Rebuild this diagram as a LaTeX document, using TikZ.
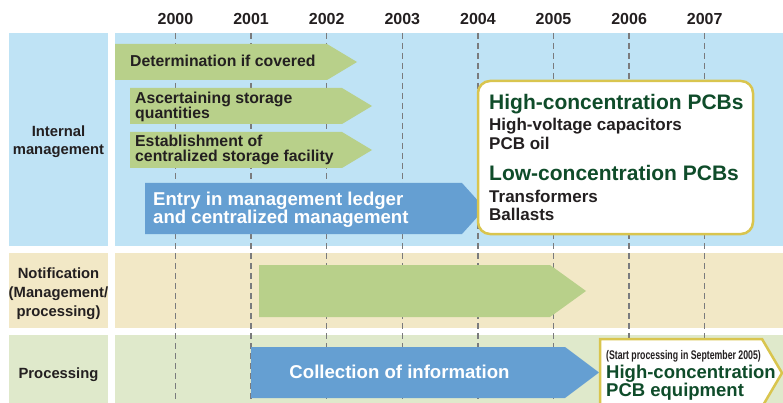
\documentclass[tikz,border=0pt]{standalone}
\usepackage{graphicx}
\usepackage{fontspec}
\setmainfont{Liberation Sans}
\usetikzlibrary{positioning}

\definecolor{bandblue}{HTML}{BFE3F5}
\definecolor{bandbeige}{HTML}{F2E8C6}
\definecolor{bandgreen}{HTML}{DFE9CB}
\definecolor{arrowgreen}{HTML}{B8D08A}
\definecolor{arrowblue}{HTML}{659FD2}
\definecolor{boxyellow}{HTML}{D9C54E}
\definecolor{pcbgreen}{HTML}{0F4C2A}
\definecolor{ink}{HTML}{231F20}
\definecolor{gridgray}{HTML}{7A7B7D}

\begin{document}
\begin{tikzpicture}[x=1pt,y=-1pt,
  every node/.style={inner sep=0pt,text=ink},
  yearlbl/.style={anchor=base,font=\bfseries\fontsize{16}{16}\selectfont},
  rowlbl/.style={anchor=base,font=\bfseries\fontsize{14.8}{17}\selectfont},
  steptext/.style={anchor=base west,font=\bfseries\fontsize{15.8}{15}\selectfont},
  bigtext/.style={font=\bfseries\fontsize{18.6}{18}\selectfont,text=white},
  pcbhead/.style={anchor=base west,font=\bfseries\fontsize{21}{21}\selectfont,text=pcbgreen},
  pcbitem/.style={anchor=base west,font=\bfseries\fontsize{17}{17}\selectfont},
  gridline/.style={gridgray,line width=1.4pt,dash pattern=on 6pt off 4pt},
  stepgreen/.style={fill=arrowgreen},
  stepblue/.style={fill=arrowblue},
]
\useasboundingbox (0,0) rectangle (783,403);
\clip (0,0) rectangle (783,403);

% row bands
\fill[bandblue] (9,33) rectangle (108,245.5);
\fill[bandblue] (115,33) rectangle (783,245.5);
\fill[bandbeige] (9,253) rectangle (108,328);
\fill[bandbeige] (115,253) rectangle (783,328);
\fill[bandgreen] (9,335) rectangle (108,403);
\fill[bandgreen] (115,335) rectangle (783,403);

% years and grid
\coordinate (gridtop) at (0,33);
\coordinate (gridbot) at (0,403);
\foreach \yr [count=\i from 0] in {2000,2001,...,2007} {
  \node[yearlbl] (y\yr) at ({175.5+75.6*\i},25) {\yr};
  \draw[gridline] (y\yr.base |- gridtop) -- (y\yr.base |- gridbot);
}

% row labels
\node[rowlbl] (internal) at (58.5,136.7) {Internal};
\node[rowlbl] (internal2) at (58.5,155) {management};
\node[rowlbl] (notif) at (58.5,278.3) {Notification};
\node[rowlbl] (notif2) at (58.5,297.5) {(Management/};
\node[rowlbl] (notif3) at (58.5,316.5) {processing)};
\node[rowlbl] (proc) at (58.5,378.3) {Processing};

% internal management steps
\path[stepgreen] (115,44) -- (327,44) -- (357,62) -- (327,80) -- (115,80) -- cycle;
\node[steptext] (determ) at (130,67) {Determination if covered};

\path[stepgreen] (130,88) -- (342,88) -- (372,106) -- (342,124) -- (130,124) -- cycle;
\node[steptext] (ascert) at (135,103.3) {Ascertaining storage};
\node[steptext] (ascert2) at (135,118.3) {quantities};

\path[stepgreen] (130,132) -- (342,132) -- (372,150) -- (342,168) -- (130,168) -- cycle;
\node[steptext] (establ) at (135,146.7) {Establishment of};
\node[steptext] (establ2) at (135,161.7) {centralized storage facility};

\path[stepblue] (145,183) -- (462,183) -- (485,208.5) -- (462,234) -- (145,234) -- cycle;
\node[bigtext,anchor=base west] (entry) at (153,205) {Entry in management ledger};
\node[bigtext,anchor=base west] (entry2) at (153,223.3) {and centralized management};

% PCB box
\draw[boxyellow,line width=2.5pt,fill=white,rounded corners=12pt] (478,81) rectangle (753,234);
\node[pcbhead] (highpcb) at (489,109.3) {High-concentration PCBs};
\node[pcbitem] (capac) at (489,130.7) {High-voltage capacitors};
\node[pcbitem] (pcboil) at (489,149.3) {PCB oil};
\node[pcbhead] (lowpcb) at (489,180.7) {Low-concentration PCBs};
\node[pcbitem] (transf) at (489,202.3) {Transformers};
\node[pcbitem] (ballast) at (489,220.7) {Ballasts};

% notification
\path[stepgreen] (259,265) -- (550,265) -- (586,291) -- (550,317) -- (259,317) -- cycle;

% processing
\path[stepblue] (251,347) -- (565,347) -- (599,372.5) -- (565,398) -- (251,398) -- cycle;
\node[bigtext,anchor=base] (collect) at (399.5,378.5) {Collection of information};

\draw[boxyellow,line width=2.5pt,fill=white] (600,339) -- (762,339) -- (782,373) -- (762,407) -- (600,407) -- cycle;
\node[anchor=base west,font=\bfseries\fontsize{12.5}{12.5}\selectfont] (start) at (606,359.3) {\scalebox{0.7}[1]{(Start processing in September 2005)}};
\node[anchor=base west,font=\bfseries\fontsize{18.5}{18.5}\selectfont,text=pcbgreen] (highequip) at (606,378.3) {High-concentration};
\node[anchor=base west,font=\bfseries\fontsize{18.5}{18.5}\selectfont,text=pcbgreen] (highequip2) at (606,396.7) {PCB equipment};
\end{tikzpicture}
\end{document}
